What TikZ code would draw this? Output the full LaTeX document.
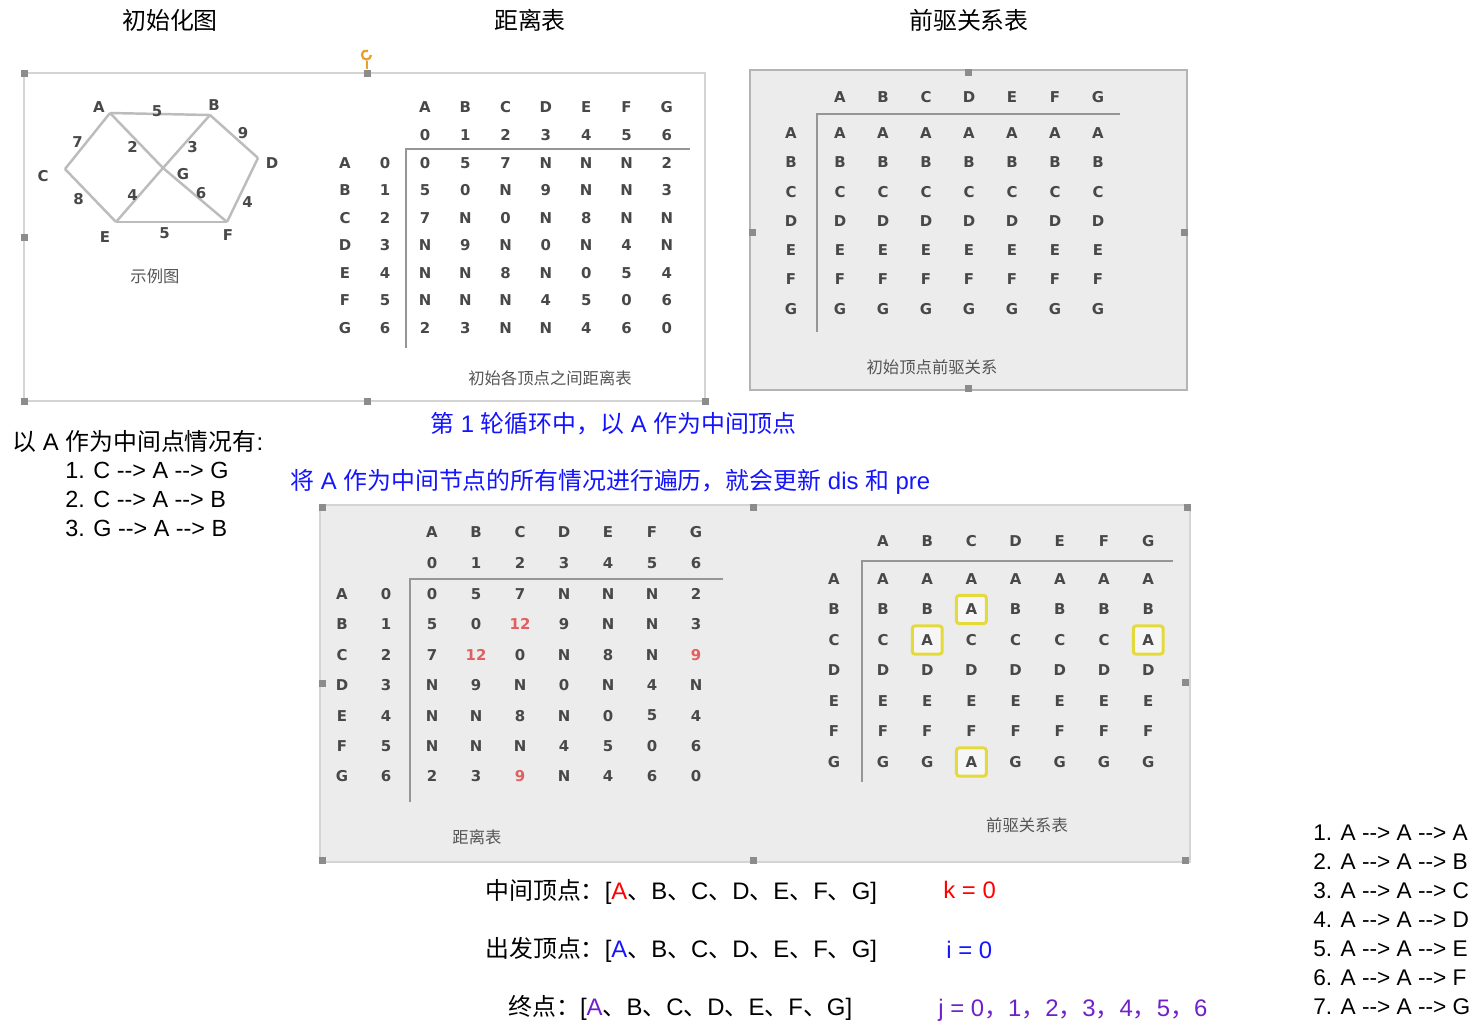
\documentclass[tikz,border=0pt]{standalone}
\usepackage{fontspec}
\setmainfont{Liberation Sans}
\newfontfamily\cjk{Noto Sans CJK SC}
\newfontfamily\tabfont{DejaVu Sans}
\usetikzlibrary{calc}
\definecolor{panelgray}{RGB}{236,236,236}
\definecolor{framegray}{RGB}{212,212,212}
\definecolor{handlegray}{RGB}{140,140,140}
\definecolor{linegray}{RGB}{150,150,150}
\definecolor{edgegray}{RGB}{188,188,188}
\definecolor{inkgray}{RGB}{72,72,72}
\definecolor{capgray}{RGB}{85,85,85}
\definecolor{numred}{RGB}{225,95,95}
\definecolor{hlyellow}{RGB}{228,218,60}
\definecolor{txtblue}{RGB}{20,20,255}
\definecolor{txtred}{RGB}{255,0,0}
\definecolor{txtpurple}{RGB}{112,32,200}
\definecolor{knobor}{RGB}{235,160,40}
\newcommand{\zh}[1]{{\cjk #1}}
\newcommand{\rd}[1]{\textcolor{numred}{#1}}
\newcommand{\pto}{-{}->}
\newcommand{\bigtxt}{\fontsize{13.6}{16}\selectfont}
\newcommand{\listtxt}{\fontsize{12.9}{15}\selectfont}
\newcommand{\casetxt}{\fontsize{13.3}{15}\selectfont}
\newcommand{\tabtxt}{\tabfont\bfseries\fontsize{8.5}{10}\selectfont}
\newcommand{\captxt}{\cjk\fontsize{9.3}{11}\selectfont}
\newcommand{\vlist}[1]{[\textcolor{#1}{A}\zh{、}B\zh{、}C\zh{、}D\zh{、}E\zh{、}F\zh{、}G]}

\begin{document}
\begin{tikzpicture}[x=0.02cm,y=-0.02cm,
  txt/.style={font=\bigtxt,inner sep=0pt,anchor=west},
  item/.style={font=\listtxt,inner sep=0pt,anchor=west},
  title/.style={font=\bigtxt,inner sep=0pt},
  cell/.style={font=\tabtxt,text=inkgray,inner sep=0pt},
  caption/.style={font=\captxt,text=capgray,inner sep=0pt},
  edge/.style={draw=edgegray,line width=1.4pt},
  tline/.style={draw=linegray,line width=1.1pt},
  handle/.style={fill=handlegray},
  hlbox/.style={draw=hlyellow,line width=1.7pt,rounded corners=1.5pt,fill=white!55!panelgray,
    minimum width=17pt,minimum height=16pt,inner sep=0pt}]
  \useasboundingbox (0,0) rectangle (1481,1032);
  % titles
  \node[title] (t-graph) at (170,20) {\zh{初始化图}};
  \node[title] (t-dist) at (530,20) {\zh{距离表}};
  \node[title] (t-pre) at (969,20) {\zh{前驱关系表}};

  % screenshot panels
  \filldraw[fill=white,draw=framegray,line width=1.4pt] (24,73) rectangle (705,401);
  \filldraw[fill=panelgray,draw=framegray!85!black,line width=0.8pt] (750,70) rectangle (1187,390);
  \filldraw[fill=panelgray,draw=framegray,line width=1.2pt] (320,505) rectangle (1190,862);
  \foreach \hx/\hy in {24/73,367/73,24/237,24/401,367/401,705/401,968/72,752/232,1184/232,968/388,
                       322/507,753/507,1187/507,322/683,1185/682,322/860,753/860,1185/860}
    \fill[handle] ({\hx-3.5},{\hy-3.5}) rectangle ++(7,7);
  \draw[knobor,line width=0.9pt] (367,61) -- (367,69);
  \draw[knobor,line width=1.3pt] (371,55) arc[start angle=0,end angle=290,radius=4.5];

  % graph
  \coordinate (A) at (110,113);
  \coordinate (B) at (210,115);
  \coordinate (C) at (65,169);
  \coordinate (D) at (258,158);
  \coordinate (E) at (116,222);
  \coordinate (F) at (227,222);
  \coordinate (G) at (163,168);
  \draw[edge] (A) -- node[cell,shift={(-3,-3)}] (wAB) {5} (B);
  \draw[edge] (A) -- node[cell,shift={(-10,1)}] (wAC) {7} (C);
  \draw[edge] (C) -- node[cell,shift={(-12,4)}] (wCE) {8} (E);
  \draw[edge] (E) -- node[cell,shift={(-7,11)}] (wEF) {5} (F);
  \draw[edge] (B) -- node[cell,shift={(9,-3)}] (wBD) {9} (D);
  \draw[edge] (D) -- node[cell,shift={(5,12)}] (wDF) {4} (F);
  \draw[edge] (A) -- node[cell,shift={(-4,6)}] (wAG) {2} (G);
  \draw[edge] (B) -- node[cell,shift={(6,6)}] (wBG) {3} (G);
  \draw[edge] (G) -- node[cell,shift={(-7,0)}] (wGE) {4} (E);
  \draw[edge] (G) -- node[cell,shift={(6,-2)}] (wGF) {6} (F);
  \foreach \v/\lx/\ly in {A/99/107,B/214/105,C/43/176,D/272/163,E/105/237,F/228/235,G/183/174}
    \node[cell] (l\v) at (\lx,\ly) {\v};
  \node[caption] (cap-graph) at (155,276) {示例图};

  % initial distance table
  \foreach \h [count=\c from 0] in {A,...,G} {
    \node[cell] (d1-h-\c) at ({425+40.3*\c},107) {\h};
    \node[cell] (d1-i-\c) at ({425+40.3*\c},135) {\c};
    \node[cell] (d1-rl-\c) at (345,{163+27.5*\c}) {\h};
    \node[cell] (d1-ri-\c) at (385,{163+27.5*\c}) {\c};
  }
  \foreach \row [count=\r from 0] in {{0,5,7,N,N,N,2},{5,0,N,9,N,N,3},{7,N,0,N,8,N,N},
      {N,9,N,0,N,4,N},{N,N,8,N,0,5,4},{N,N,N,4,5,0,6},{2,3,N,N,4,6,0}}
    \foreach \v [count=\c from 0] in \row
      \node[cell] (d1-\r-\c) at ({425+40.3*\c},{163+27.5*\r}) {\v};
  \draw[tline] (690,149) -- (406,149) -- (406,348);
  \node[caption] (cap-d1) at (550,378) {初始各顶点之间距离表};

  % initial predecessor table
  \foreach \h [count=\c from 0] in {A,...,G} {
    \node[cell] (p1-h-\c) at ({840+43*\c},97) {\h};
    \node[cell] (p1-rl-\c) at (791,{133+29.3*\c}) {\h};
    \foreach \k in {0,...,6}
      \node[cell] (p1-\c-\k) at ({840+43*\k},{133+29.3*\c}) {\h};
  }
  \draw[tline] (1120,114) -- (817,114) -- (817,332);
  \node[caption] (cap-p1) at (932,367) {初始顶点前驱关系};

  % text between
  \node[txt,text=txtblue] (round) at (430,424) {\zh{第} 1 \zh{轮循环中，以} A \zh{作为中间顶点}};
  \node[txt] (cases) at (12,441) {\zh{以} A \zh{作为中间点情况有}:};
  \foreach \s/\e [count=\i] in {C/G,C/B,G/B}
    \node[item,font=\casetxt] (case\i) at (65,{441+29*\i}) {\i. \s{} \pto{} A \pto{} \e};
  \node[txt,text=txtblue] (sweep) at (290,482) {\zh{将} A \zh{作为中间节点的所有情况进行遍历，就会更新} dis \zh{和} pre};

  % distance table after k = 0
  \foreach \h [count=\c from 0] in {A,...,G} {
    \node[cell] (d2-h-\c) at ({432+44*\c},532) {\h};
    \node[cell] (d2-i-\c) at ({432+44*\c},563) {\c};
    \node[cell] (d2-rl-\c) at (342,{594+30.4*\c}) {\h};
    \node[cell] (d2-ri-\c) at (386,{594+30.4*\c}) {\c};
  }
  \foreach \row [count=\r from 0] in {{0,5,7,N,N,N,2},{5,0,\rd{12},9,N,N,3},{7,\rd{12},0,N,8,N,\rd{9}},
      {N,9,N,0,N,4,N},{N,N,8,N,0,5,4},{N,N,N,4,5,0,6},{2,3,\rd{9},N,4,6,0}}
    \foreach \v [count=\c from 0] in \row
      \node[cell] (d2-\r-\c) at ({432+44*\c},{594+30.4*\r}) {\v};
  \draw[tline] (723,579) -- (410,579) -- (410,802);
  \node[caption] (cap-d2) at (477,837) {距离表};

  % predecessor table after k = 0
  \foreach \r/\c in {1/2,2/1,2/6,6/2}
    \node[hlbox] (hl-\r-\c) at ({883+44.2*\c},{579+30.5*\r}) {};
  \foreach \h [count=\c from 0] in {A,...,G} {
    \node[cell] (p2-h-\c) at ({883+44.2*\c},541) {\h};
    \node[cell] (p2-rl-\c) at (834,{579+30.5*\c}) {\h};
  }
  \foreach \row [count=\r from 0] in {{A,A,A,A,A,A,A},{B,B,A,B,B,B,B},{C,A,C,C,C,C,A},
      {D,D,D,D,D,D,D},{E,E,E,E,E,E,E},{F,F,F,F,F,F,F},{G,G,A,G,G,G,G}}
    \foreach \v [count=\c from 0] in \row
      \node[cell] (p2-\r-\c) at ({883+44.2*\c},{579+30.5*\r}) {\v};
  \draw[tline] (1173,561) -- (862,561) -- (862,782);
  \node[caption] (cap-p2) at (1027,825) {前驱关系表};

  % loop indices
  \node[txt] (mid) at (485,892) {\zh{中间顶点：}\vlist{txtred}};
  \node[txt] (src) at (485,950) {\zh{出发顶点：}\vlist{txtblue}};
  \node[txt] (dst) at (508,1008) {\zh{终点：}\vlist{txtpurple}};
  \node[txt,text=txtred] (kval) at (943,890) {k = 0};
  \node[txt,text=txtblue] (ival) at (946,950) {i = 0};
  \node[txt,text=txtpurple] (jval) at (938,1010) {j = 0\zh{，}1\zh{，}2\zh{，}3\zh{，}4\zh{，}5\zh{，}6};
  \foreach \e [count=\i] in {A,...,G}
    \node[item] (walk\i) at (1313,{804+28.9*\i}) {\i. A \pto{} A \pto{} \e};
\end{tikzpicture}
\end{document}
